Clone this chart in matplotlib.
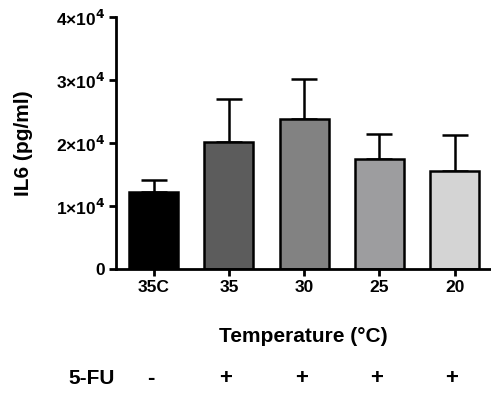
import matplotlib
matplotlib.use("Agg")
import matplotlib.pyplot as plt
import matplotlib.transforms as mtransforms

plt.rcParams['font.family'] = ['Liberation Sans', 'DejaVu Sans']
plt.rcParams['font.weight'] = 'bold'
plt.rcParams['mathtext.default'] = 'bf'

# data
groups = ["35C", "35", "30", "25", "20"]
il6_mean = [1.23e4, 2.02e4, 2.38e4, 1.74e4, 1.56e4]
il6_err = [0.19e4, 0.68e4, 0.64e4, 0.41e4, 0.57e4]
fu_marks = ["-", "+", "+", "+", "+"]
bar_colors = ["#000000", "#5c5c5c", "#828282", "#9d9d9f", "#d4d4d4"]
yticks = [0, 1e4, 2e4, 3e4, 4e4]
ytick_labels = ["0", r"1×10$^{4}$", r"2×10$^{4}$", r"3×10$^{4}$", r"4×10$^{4}$"]

fig = plt.figure(figsize=(4.91, 3.94), dpi=100)
ax = fig.add_axes([116 / 491, 125 / 394, 374 / 491, 252 / 394])

x = list(range(len(groups)))
ax.bar(x, il6_mean, width=0.65, color=bar_colors, edgecolor="black", linewidth=1.8, zorder=2)
ax.errorbar(x, il6_mean, yerr=[[0] * len(x), il6_err], fmt="none", ecolor="black",
            elinewidth=1.8, capsize=9.5, capthick=1.8, zorder=1)

ax.set_xlim(-0.5, 4.47)
ax.set_ylim(0, 4e4)
ax.set_yticks(yticks)
ax.set_yticklabels(ytick_labels)
ax.set_xticks(x)
ax.set_xticklabels(groups)

for side in ["top", "right"]:
    ax.spines[side].set_visible(False)
for side in ["left", "bottom"]:
    ax.spines[side].set_linewidth(2)
ax.tick_params(axis="both", direction="out", length=5, width=2, labelsize=12.5, pad=3)
for lab in ax.get_xticklabels() + ax.get_yticklabels():
    lab.set_fontweight("bold")

ax.set_ylabel("IL6 (pg/ml)", fontsize=15, fontweight="bold", labelpad=16)
ax.set_xlabel("Temperature (°C)", fontsize=15, fontweight="bold", labelpad=23)

# 5-FU row under the chart
trans = mtransforms.blended_transform_factory(ax.transData, fig.transFigure)
fig.text(92 / 491, 1 - 378 / 394, "5-FU", fontsize=15, fontweight="bold", ha="center", va="center")
for xi, m in zip(x, fu_marks):
    ax.text(xi - 0.04, 1 - 378 / 394, m, transform=trans, fontsize=16, fontweight="bold",
            ha="center", va="center")

fig.savefig("out.png", dpi=100)
